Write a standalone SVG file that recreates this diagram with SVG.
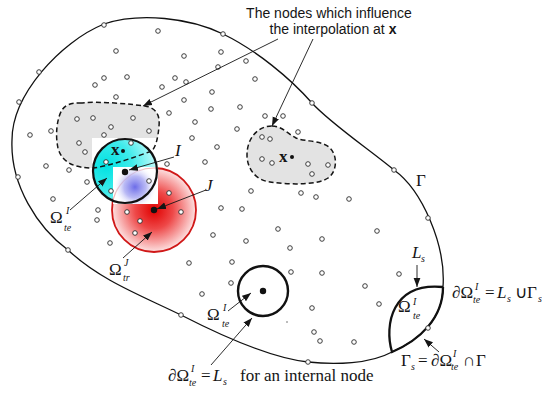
<svg xmlns="http://www.w3.org/2000/svg" width="542" height="396" viewBox="0 0 542 396">
<style>
.ol{fill:none;stroke:#111;stroke-width:1.3}
.blob{fill:#e3e3e3;stroke:none}
.dash{fill:none;stroke:#151515;stroke-width:1.5;stroke-dasharray:5 3}
.nd{fill:#fff;stroke:#2a2a2a;stroke-width:0.9}
.ld{fill:none;stroke:#151515;stroke-width:0.9;marker-end:url(#ah)}
.thick{fill:none;stroke:#111;stroke-width:2.3}
.m{font-family:"Liberation Serif","Times New Roman",serif;fill:#151515;font-size:17px}
.it{font-style:italic}
.sm{font-size:10px;font-style:italic}
.ss{font-family:"Liberation Sans",Arial,sans-serif;font-size:14px;fill:#151515}
</style>
<defs>
<marker id="ah" markerWidth="10" markerHeight="8" refX="9" refY="4" orient="auto" markerUnits="userSpaceOnUse"><path d="M0,0.6 L9,4 L0,7.4 Z" fill="#151515"/></marker>
<radialGradient id="cy" gradientUnits="userSpaceOnUse" cx="106" cy="166" r="58"><stop offset="0" stop-color="#00e2e2"/><stop offset="0.45" stop-color="#40ebeb"/><stop offset="1" stop-color="#eaffff"/></radialGradient>
<radialGradient id="rd" gradientUnits="userSpaceOnUse" cx="154" cy="210" r="42"><stop offset="0" stop-color="#e00000"/><stop offset="0.45" stop-color="#ee4848"/><stop offset="1" stop-color="#fde2e2"/></radialGradient>
<radialGradient id="bl" gradientUnits="userSpaceOnUse" cx="135" cy="187" r="22"><stop offset="0" stop-color="#6c6ce8"/><stop offset="0.5" stop-color="#a8a8f2" stop-opacity="0.8"/><stop offset="1" stop-color="#ffffff" stop-opacity="0"/></radialGradient>
<clipPath id="sq"><rect x="113" y="167" width="45" height="37"/></clipPath>
</defs>

<g id="domain">
<path class="ol" d="M104,24 C140,12 190,18 223,34 C256,50 290,78 312,103 C330,123 370,150 394,170 C422,190 446,245 443,287 C443,318 420,340 392,352 C370,364 335,365 308,362 C270,358 220,335 181,315 C140,295 100,280 68,250 C38,228 10,185 12,140 C12,95 60,42 104,24 Z"/>
</g>

<g id="support-left">
<path class="blob" d="M80,103 C100,101 130,104 145,106 C157,108 160,116 159,126 C158,138 156,146 152,151 C135,157 110,166 93,168 C75,168 62,163 58,148 C55,135 57,118 62,110 C66,104 72,103 80,103 Z"/>
</g>
<g id="support-right">
<path class="blob" d="M272,126 C282,126 288,134 296,138 C305,142 322,140 330,148 C338,156 337,172 328,178 C318,185 290,185 270,182 C255,180 247,168 247,155 C247,138 258,126 272,126 Z"/>
<path class="dash" d="M272,126 C282,126 288,134 296,138 C305,142 322,140 330,148 C338,156 337,172 328,178 C318,185 290,185 270,182 C255,180 247,168 247,155 C247,138 258,126 272,126 Z"/>
</g>

<g id="test-domain-I">
<rect x="92" y="138" width="64" height="35" fill="#fff"/>
<circle cx="125" cy="171" r="32" fill="url(#cy)"/>
</g>
<g id="trial-domain-J">
<circle cx="154" cy="210" r="42" fill="url(#rd)" stroke="#d01818" stroke-width="1.8"/>
</g>
<g id="overlap">
<rect x="113" y="167" width="45" height="37" fill="#fff"/>
<circle cx="154" cy="210" r="42" fill="none" stroke="#e07070" stroke-width="1.2" opacity="0.5" clip-path="url(#sq)"/>
<ellipse cx="135" cy="187" rx="22" ry="20" fill="url(#bl)" clip-path="url(#sq)"/>
</g>
<g id="support-left-edge">
<path class="dash" d="M80,103 C100,101 130,104 145,106 C157,108 160,116 159,126 C158,138 156,146 152,151 C135,157 110,166 93,168 C75,168 62,163 58,148 C55,135 57,118 62,110 C66,104 72,103 80,103 Z"/>
</g>
<g id="circle-I">
<circle cx="125" cy="171" r="32" fill="none" stroke="#111" stroke-width="2.2"/>
</g>
<g id="internal-node-domain">
<circle cx="263" cy="291" r="25" fill="none" stroke="#111" stroke-width="2.4"/>
</g>
<g id="boundary-lens">
<path class="thick" d="M443,287 C443,318 420,340 392,352 C384,325 392,282 443,287"/>
</g>

<g id="mesh-nodes">
<circle class="nd" cx="104" cy="25" r="2.3"/><circle class="nd" cx="223" cy="34" r="2.3"/><circle class="nd" cx="39" cy="72" r="2.3"/><circle class="nd" cx="19" cy="102" r="2.3"/><circle class="nd" cx="18" cy="177" r="2.3"/><circle class="nd" cx="68" cy="250" r="2.3"/><circle class="nd" cx="181" cy="315" r="2.3"/><circle class="nd" cx="308" cy="362" r="2.3"/><circle class="nd" cx="428" cy="328" r="2.3"/><circle class="nd" cx="428" cy="218" r="2.3"/><circle class="nd" cx="394" cy="170" r="2.3"/><circle class="nd" cx="312" cy="103" r="2.3"/>
<circle class="nd" cx="158" cy="31" r="2.3"/><circle class="nd" cx="116" cy="51" r="2.3"/><circle class="nd" cx="184" cy="56" r="2.3"/><circle class="nd" cx="221" cy="52" r="2.3"/><circle class="nd" cx="246" cy="61" r="2.3"/><circle class="nd" cx="218" cy="67" r="2.3"/><circle class="nd" cx="104" cy="78" r="2.3"/><circle class="nd" cx="95" cy="85" r="2.3"/><circle class="nd" cx="127" cy="77" r="2.3"/><circle class="nd" cx="162" cy="87" r="2.3"/><circle class="nd" cx="175" cy="78" r="2.3"/><circle class="nd" cx="186" cy="82" r="2.3"/><circle class="nd" cx="255" cy="79" r="2.3"/><circle class="nd" cx="212" cy="92" r="2.3"/><circle class="nd" cx="116" cy="97" r="2.3"/><circle class="nd" cx="184" cy="100" r="2.3"/><circle class="nd" cx="211" cy="109" r="2.3"/><circle class="nd" cx="240" cy="107" r="2.3"/><circle class="nd" cx="169" cy="113" r="2.3"/><circle class="nd" cx="195" cy="122" r="2.3"/><circle class="nd" cx="265" cy="116" r="2.3"/><circle class="nd" cx="283" cy="116" r="2.3"/><circle class="nd" cx="237" cy="129" r="2.3"/><circle class="nd" cx="298" cy="132" r="2.3"/>
<circle class="nd" cx="30" cy="135" r="2.3"/><circle class="nd" cx="51" cy="131" r="2.3"/><circle class="nd" cx="77" cy="119" r="2.3"/><circle class="nd" cx="93" cy="118" r="2.3"/><circle class="nd" cx="111" cy="127" r="2.3"/><circle class="nd" cx="133" cy="118" r="2.3"/><circle class="nd" cx="149" cy="131" r="2.3"/><circle class="nd" cx="104" cy="135" r="2.3"/><circle class="nd" cx="79" cy="143" r="2.3"/><circle class="nd" cx="85" cy="152" r="2.3"/><circle class="nd" cx="131" cy="143" r="2.3"/><circle class="nd" cx="192" cy="138" r="2.3"/><circle class="nd" cx="217" cy="147" r="2.3"/><circle class="nd" cx="46" cy="166" r="2.3"/><circle class="nd" cx="69" cy="170" r="2.3"/><circle class="nd" cx="106" cy="162" r="2.3"/><circle class="nd" cx="167" cy="164" r="2.3"/><circle class="nd" cx="205" cy="162" r="2.3"/><circle class="nd" cx="87" cy="182" r="2.3"/><circle class="nd" cx="111" cy="191" r="2.3"/><circle class="nd" cx="149" cy="181" r="2.3"/><circle class="nd" cx="169" cy="193" r="2.3"/><circle class="nd" cx="181" cy="212" r="2.3"/><circle class="nd" cx="140" cy="221" r="2.3"/><circle class="nd" cx="127" cy="212" r="2.3"/><circle class="nd" cx="135" cy="233" r="2.3"/><circle class="nd" cx="53" cy="199" r="2.3"/><circle class="nd" cx="98" cy="210" r="2.3"/><circle class="nd" cx="97" cy="220" r="2.3"/><circle class="nd" cx="110" cy="243" r="2.3"/>
<circle class="nd" cx="262" cy="137" r="2.3"/><circle class="nd" cx="270" cy="139" r="2.3"/><circle class="nd" cx="262" cy="159" r="2.3"/><circle class="nd" cx="272" cy="163" r="2.3"/><circle class="nd" cx="308" cy="164" r="2.3"/><circle class="nd" cx="312" cy="174" r="2.3"/><circle class="nd" cx="328" cy="165" r="2.3"/>
<circle class="nd" cx="251" cy="191" r="2.3"/><circle class="nd" cx="221" cy="208" r="2.3"/><circle class="nd" cx="242" cy="209" r="2.3"/><circle class="nd" cx="301" cy="193" r="2.3"/><circle class="nd" cx="316" cy="197" r="2.3"/><circle class="nd" cx="349" cy="199" r="2.3"/><circle class="nd" cx="278" cy="229" r="2.3"/><circle class="nd" cx="213" cy="235" r="2.3"/><circle class="nd" cx="246" cy="241" r="2.3"/><circle class="nd" cx="290" cy="248" r="2.3"/><circle class="nd" cx="322" cy="239" r="2.3"/><circle class="nd" cx="377" cy="231" r="2.3"/><circle class="nd" cx="189" cy="263" r="2.3"/><circle class="nd" cx="232" cy="262" r="2.3"/><circle class="nd" cx="291" cy="272" r="2.3"/><circle class="nd" cx="322" cy="273" r="2.3"/><circle class="nd" cx="399" cy="274" r="2.3"/><circle class="nd" cx="231" cy="283" r="2.3"/><circle class="nd" cx="202" cy="294" r="2.3"/><circle class="nd" cx="365" cy="286" r="2.3"/><circle class="nd" cx="379" cy="304" r="2.3"/><circle class="nd" cx="312" cy="308" r="2.3"/><circle class="nd" cx="314" cy="332" r="2.3"/><circle class="nd" cx="320" cy="341" r="2.3"/><circle class="nd" cx="354" cy="342" r="2.3"/>
<line x1="286" y1="322" x2="288" y2="322" stroke="#555" stroke-width="0.8"/>
</g>

<g id="points" fill="#111">
<circle cx="125" cy="172" r="3.2"/><circle cx="154" cy="210" r="3.2"/><circle cx="263" cy="291" r="3.2"/><circle cx="123" cy="151" r="2"/><circle cx="292" cy="157" r="2"/>
</g>

<g id="connectors">
<line class="ld" x1="278" y1="39" x2="143" y2="106"/>
<line class="ld" x1="313" y1="39" x2="272" y2="126"/>
<line class="ld" x1="174" y1="157" x2="129" y2="170"/>
<line class="ld" x1="206" y1="190" x2="157" y2="209"/>
<line class="ld" x1="70" y1="210" x2="107" y2="178"/>
<line class="ld" x1="123" y1="258" x2="152" y2="232"/>
<line class="ld" x1="228" y1="311" x2="251" y2="293"/>
<line class="ld" x1="211" y1="365" x2="252" y2="318"/>
<line class="ld" x1="417" y1="265" x2="417" y2="287"/>
<line class="ld" x1="439" y1="352" x2="424" y2="339"/>
</g>

<g id="labels">
<text class="ss" x="329" y="18" text-anchor="middle">The nodes which influence</text>
<text class="ss" x="333" y="34" text-anchor="middle">the interpolation at <tspan font-weight="bold">x</tspan></text>
<text class="m" x="111" y="155" font-size="15" font-weight="bold">x</text>
<text class="m" x="279" y="162" font-size="15" font-weight="bold">x</text>
<text class="m it" x="175" y="156">I</text>
<text class="m it" x="205" y="191">J</text>
<text class="m" x="416" y="186">Γ</text>
<text class="m" x="50" y="223">Ω</text><text class="m sm" x="66" y="214">I</text><text class="m sm" x="64" y="231">te</text>
<text class="m" x="109" y="275">Ω</text><text class="m sm" x="124" y="266">J</text><text class="m sm" x="123" y="281">tr</text>
<text class="m" x="207" y="320">Ω</text><text class="m sm" x="223" y="311">I</text><text class="m sm" x="222" y="327">te</text>
<text class="m" x="398" y="312" font-size="16">Ω</text><text class="m sm" x="413" y="305">I</text><text class="m sm" x="413" y="319">te</text>
<text class="m it" x="412" y="258">L</text><text class="m sm" x="421" y="262">s</text>
<text class="m" x="452" y="298">∂Ω</text><text class="m sm" x="475" y="290">I</text><text class="m sm" x="473" y="303">te</text><text class="m" x="485" y="298">=</text><text class="m it" x="497" y="298">L</text><text class="m sm" x="507" y="302">s</text><text class="m" x="515" y="298">∪</text><text class="m" x="527" y="298">Γ</text><text class="m sm" x="538" y="302">s</text>
<text class="m" x="401" y="366">Γ</text><text class="m sm" x="411" y="370">s</text><text class="m" x="418" y="366">=</text><text class="m" x="431" y="366">∂Ω</text><text class="m sm" x="453" y="357">I</text><text class="m sm" x="451" y="370">te</text><text class="m" x="463" y="366">∩</text><text class="m" x="476" y="366">Γ</text>
<text class="m" x="168" y="381">∂Ω</text><text class="m sm" x="191" y="372">I</text><text class="m sm" x="189" y="386">te</text><text class="m" x="201" y="381">=</text><text class="m it" x="213" y="381">L</text><text class="m sm" x="223" y="385">s</text><text class="m" x="240" y="381" font-size="15.5">for an internal node</text>
</g>
</svg>
